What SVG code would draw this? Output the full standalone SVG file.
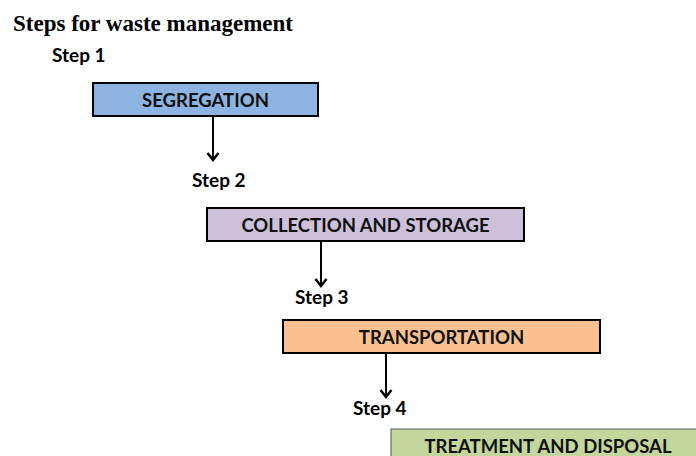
<svg xmlns="http://www.w3.org/2000/svg" width="696" height="456" viewBox="0 0 696 456">
<style>
.title{font-family:"Liberation Serif",serif;font-weight:bold;font-size:23px;fill:#000}
.step{font-family:Lato,"Liberation Sans",sans-serif;font-weight:bold;font-size:19px;fill:#000}
.lbl{font-family:Lato,"Liberation Sans",sans-serif;font-weight:bold;font-size:18.5px;fill:#111;text-anchor:middle}
.box{stroke:#000;stroke-width:2}
.conn{stroke:#000;stroke-width:2;fill:none}
</style>
<defs>
<marker id="arr" markerWidth="14" markerHeight="14" refX="11" refY="7" orient="auto" markerUnits="userSpaceOnUse" viewBox="0 0 14 14">
<path d="M4,1.5 L11,7 L4,12.5" fill="none" stroke="#000" stroke-width="2.5"/>
</marker>
</defs>
<rect width="696" height="456" fill="#fff"/>
<text class="title" x="13" y="31">Steps for waste management</text>
<text class="step" x="52" y="62">Step 1</text>
<text class="step" x="192" y="187">Step 2</text>
<text class="step" x="295" y="304">Step 3</text>
<text class="step" x="353" y="415">Step 4</text>
<g id="segregation">
<rect class="box" x="93" y="83" width="225" height="33" fill="#8db3e2"/>
<text class="lbl" x="205.5" y="106.5">SEGREGATION</text>
</g>
<g id="collection">
<rect class="box" x="207" y="208" width="317" height="33" fill="#ccc0da"/>
<text class="lbl" x="365.5" y="231.5">COLLECTION  AND STORAGE</text>
</g>
<g id="transportation">
<rect class="box" x="283" y="320" width="317" height="33" fill="#fac090"/>
<text class="lbl" x="441.5" y="343.5">TRANSPORTATION</text>
</g>
<g id="treatment">
<rect x="391" y="429" width="310" height="40" fill="#c3d69b" stroke="#555" stroke-width="1"/>
<text class="lbl" x="548" y="453">TREATMENT AND DISPOSAL</text>
</g>
<g id="connectors">
<line class="conn" x1="213" y1="117" x2="213" y2="160" marker-end="url(#arr)"/>
<line class="conn" x1="321" y1="242" x2="321" y2="286" marker-end="url(#arr)"/>
<line class="conn" x1="386" y1="354" x2="386" y2="397" marker-end="url(#arr)"/>
</g>
</svg>
